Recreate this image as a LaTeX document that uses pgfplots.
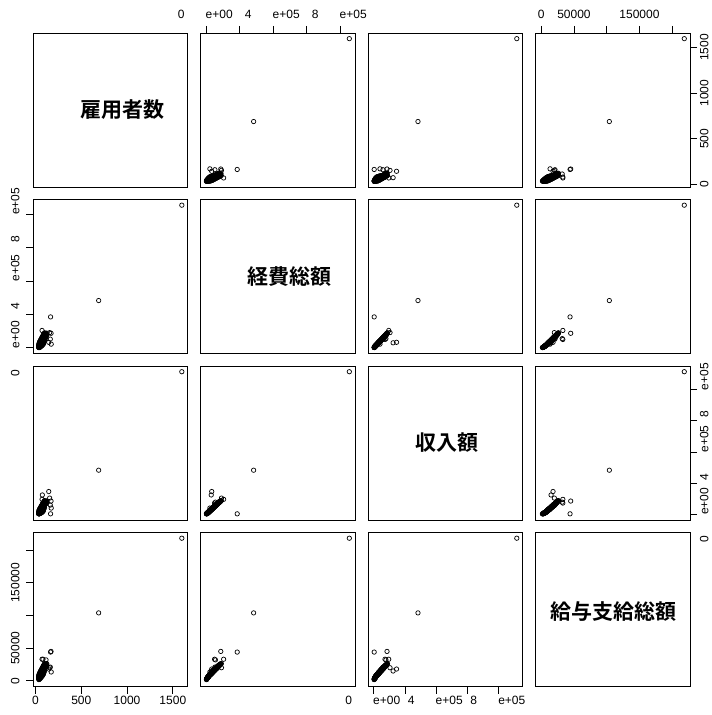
\documentclass[border=0pt]{standalone}
\usepackage{pgfplots}
\pgfplotsset{compat=1.18}
\usepackage{pgfplotstable}
\usepackage{fontspec}
\setmainfont{Liberation Sans}
\newfontfamily\cjk{Noto Sans CJK JP}[BoldFont={Noto Sans CJK JP Bold}]

% emp = 雇用者数, exp = 経費総額, inc = 収入額, sal = 給与支給総額
\pgfplotstableread{
emp exp inc sal
35 3000 4000 3000
35 6000 5000 4600
36 2000 3000 2400
36 9000 8000 5000
37 5000 6000 3700
37 11000 10000 6000
38 4000 4500 3400
38 7500 9000 4300
39 13000 12000 6500
39 6000 7000 4000
40 9000 8500 5300
40 15000 14000 7200
41 3500 5000 3100
41 11000 12500 5800
42 8000 7000 4700
42 17000 16000 7700
43 12000 13500 6200
43 5500 6500 4100
44 14000 12000 7100
44 19000 18500 8400
45 9500 11000 5500
45 16000 17000 7900
46 7000 8000 4800
46 21000 20000 8900
47 13000 14000 6700
47 18000 16500 8300
48 10500 12000 6000
48 23000 22000 9500
49 15500 15000 7400
49 20000 21500 9100
50 12000 11000 6400
50 25000 24000 10100
51 17500 18000 8200
51 9000 10500 5600
52 22000 20500 9600
52 14000 15500 7200
53 27000 26000 10700
53 19000 20000 8800
54 11500 13000 6600
54 24000 23000 10300
55 16000 17500 7800
55 29000 28000 11300
56 21000 22500 9400
56 13000 14000 7100
57 26000 25500 10900
57 31000 30000 11900
58 18000 19000 8500
58 23500 24500 10000
59 33000 31500 12500
59 15000 16000 7700
60 28000 27000 11500
60 20000 21000 9200
61 35000 34000 13100
61 25000 27500 10600
62 17000 18500 8300
62 30000 29000 12100
63 37000 36000 13700
63 22000 23000 9800
64 27000 28500 11200
64 32000 33500 12700
65 19000 20500 8900
65 39000 38000 14300
66 24500 26000 10400
66 34000 32500 13300
67 29000 30500 11800
67 41000 40000 14900
68 21500 22500 9500
68 36000 37500 13900
69 31000 29500 12400
69 43000 42000 15500
70 26000 27000 10800
70 38000 39000 14500
71 45000 44500 16100
71 33000 35000 13000
72 23500 25000 10200
72 40000 41500 15100
73 35000 33500 13600
73 47000 46000 16700
74 28500 30000 11400
74 42000 43000 15700
75 49000 48000 17300
75 37000 38500 14200
76 31000 32000 12000
76 44000 45500 16300
77 52000 50000 17900
77 39000 40000 14800
78 26000 28000 11000
78 46000 47000 16900
79 54000 53000 18500
79 41000 43000 15400
80 34000 35500 12800
80 48000 49500 17500
81 57000 55000 19100
81 43000 45000 16000
82 37000 38000 13800
82 51000 52000 18100
83 59000 58000 19700
83 45500 47000 16600
84 30000 32500 12200
84 53000 55000 18700
85 62000 60000 20300
85 48000 50500 17200
86 40000 41000 14600
86 56000 57000 19300
87 64000 63000 20900
88 50000 52500 17800
88 58000 60000 19900
89 44000 45000 15600
89 67000 65000 21500
90 53000 55500 18400
90 61000 62000 20500
91 47000 48000 16400
92 69000 68000 22100
92 55000 57000 19000
93 63000 65000 21100
94 50000 51000 17400
94 72000 70000 22700
95 58000 60500 19600
96 66000 67000 21700
97 53000 54000 18000
97 74000 73000 23300
98 61000 63000 20200
99 68000 70000 22300
100 56000 57500 18800
100 77000 75000 23900
102 64000 66000 20800
103 71000 72500 22900
104 59000 61000 19400
105 80000 78000 24500
106 67000 69000 21400
107 74000 76000 23500
108 62000 64000 20000
110 83000 81000 25100
111 70000 72000 22000
113 77000 79000 24100
115 65000 68000 20600
116 86000 84000 25700
118 73000 75000 22600
120 80000 82000 24700
123 88000 86000 26300
125 76000 79000 23200
36 15000 13000 7000
37 20000 22000 8500
38 1500 2500 1800
39 24000 21000 9000
40 2500 3500 2200
41 26000 28000 9600
42 30000 27000 10500
43 2000 4000 2600
44 33000 31000 11000
45 4500 3500 3200
46 28000 30000 10200
47 36000 34000 12000
48 6000 7500 3800
49 39000 37000 12800
50 31000 33000 11200
51 4000 6000 3500
52 41000 40000 13500
53 8500 7000 4600
54 35000 37000 12000
55 45000 43000 14500
56 7500 9500 4500
57 38000 36000 13000
58 48000 46000 15200
59 10000 12000 5500
60 42000 44000 14000
61 51000 49000 16000
62 9500 8500 5300
63 45000 47000 15000
64 54000 52000 16800
65 13000 14500 6600
66 49000 51000 16000
67 57000 55000 17600
68 12500 11000 6400
69 52000 54000 16900
70 60000 58000 18300
71 16000 18000 7800
72 55000 57000 17800
73 63000 61000 19000
74 15000 14000 7400
75 58000 60000 18600
76 66000 64000 19800
77 20000 22000 9000
78 61000 63000 19500
79 69000 67000 20600
80 19000 17500 8800
81 64000 66000 20300
82 72000 70000 21400
83 24000 26000 10300
84 67000 69000 21100
85 75000 73000 22200
86 23000 21500 10000
87 70000 72000 21900
88 78000 76000 23000
89 28000 30000 11500
90 73000 75000 22700
91 81000 79000 23800
92 33000 35000 12800
93 76000 78000 23500
94 84000 82000 24600
95 38000 40000 14000
96 79000 81000 24300
97 87000 85000 25400
98 43000 45000 15300
99 82000 84000 25100
100 90000 88000 26200
36 7000 8000 4200
38 10000 11000 5100
40 12500 11500 5800
42 11000 13000 5600
44 9000 10000 5000
46 15000 16500 7000
48 17000 15500 7400
50 16000 18000 7300
52 19000 17500 8100
54 18500 20000 8000
56 26000 24000 10000
58 28500 30500 10700
60 24500 23000 9600
62 26500 28000 10200
64 22500 24000 9200
66 30000 28500 11000
68 32500 34500 11800
70 34500 33000 12300
72 31000 32500 11600
74 37500 39500 13100
76 40000 38500 13600
78 38500 40500 13400
80 42500 41000 14300
82 45000 47500 15000
84 47500 46000 15500
86 51000 53500 16500
88 46000 47500 15300
90 49000 51000 16000
92 58000 56500 18000
94 56000 58000 17600
96 60000 62000 18500
98 64000 62500 19300
37 8500 7000 4400
39 9500 10500 4900
41 7000 8500 4300
43 9000 7500 4800
45 12500 13000 6000
47 10000 11000 5400
49 12000 13500 5900
51 14000 12500 6500
53 16500 18500 7400
55 20000 19000 8300
57 22000 23500 8900
59 25000 26500 9700
61 21000 19500 8500
63 28000 30000 10500
65 31000 30000 11400
67 33500 35500 12000
69 36000 34500 12900
71 39000 41000 13600
73 41500 40000 14200
75 44000 46500 15000
77 47000 45500 15700
165 185000 3000 44000
145 33000 146000 18000
170 87000 85000 45000
172 22000 40000 13500
162 52000 59000 21000
155 91000 104000 20000
82 50000 72000 33000
115 55000 78000 32000
72 104000 96000 33000
75 30000 124000 15000
690 283000 283000 104000
1598 854000 915000 218400
}\pts

\pgfplotsset{
  panel/.style={
    scale only axis, width=154.5bp, height=154bp,
    anchor=south west, axis line style={line width=0.8bp},
    xtick=\empty, ytick=\empty, clip=false, scaled ticks=false,
    xticklabels={}, yticklabels={},
    tick label style={opacity=0},
    tick style={line width=0.8bp, black},
    major tick length=7bp, tick align=outside,
  },
  pt/.style={only marks, mark=o, mark size=2.2bp,
    mark options={line width=0.7bp, black}},
  vemp/.style={#1min=-27, #1max=1660},
  vexp/.style={#1min=-34000, #1max=888000},
  vinc/.style={#1min=-36600, #1max=951600},
  vsal/.style={#1min=-8740, #1max=227140},
}
\tikzset{
  diag/.style={font=\cjk\bfseries\fontsize{21bp}{23bp}\selectfont},
  tl/.style={inner sep=0pt, font=\fontsize{12bp}{14bp}\selectfont},
}
% tick labels of the four outer sides
\newcommand{\toplab}[2]{\node[tl, yshift=14.5bp, anchor=base] at ({axis cs:#1,0} |- {rel axis cs:0,1}) {#2};}
\newcommand{\botlab}[2]{\node[tl, yshift=-17.8bp, anchor=base] at ({axis cs:#1,0} |- {rel axis cs:0,0}) {#2};}
\newcommand{\leftlab}[2]{\node[tl, xshift=-13.7bp, rotate=90, anchor=base] at ({rel axis cs:0,0} |- {axis cs:0,#1}) {#2};}
\newcommand{\rightlab}[2]{\node[tl, xshift=18.3bp, rotate=90, anchor=base] at ({rel axis cs:1,0} |- {axis cs:0,#1}) {#2};}
\newcommand{\sci}[2]{\makebox[0pt]{\hspace*{-50bp}#1}\makebox[0pt]{\hspace*{26bp}#2}}

\begin{document}
\begin{tikzpicture}
\useasboundingbox (0,0) rectangle (712bp,715bp);
% ---------- row 1 : 雇用者数 ----------
\begin{axis}[panel, at={(33bp,528bp)}, vemp=x, vemp=y]
\node[diag, xshift=12bp] at (rel axis cs:0.5,0.5) {雇用者数};
\end{axis}
\begin{axis}[panel, at={(200.5bp,528bp)}, vexp=x, vemp=y,
  xtick={0,200000,400000,600000,800000}, xtick pos=upper]
\addplot[pt] table[x=exp,y=emp]{\pts};
\toplab{0}{\sci{0}{e+00}}
\toplab{400000}{\sci{4}{e+05}}
\toplab{800000}{\sci{8}{e+05}}
\end{axis}
\begin{axis}[panel, at={(368bp,528bp)}, vinc=x, vemp=y]
\addplot[pt] table[x=inc,y=emp]{\pts};
\end{axis}
\begin{axis}[panel, at={(535.5bp,528bp)}, vsal=x, vemp=y,
  xtick={0,50000,100000,150000,200000}, xtick pos=upper,
  ytick={0,500,1000,1500}, ytick pos=right]
\addplot[pt] table[x=sal,y=emp]{\pts};
\toplab{0}{0}
\toplab{50000}{50000}
\toplab{150000}{150000}
\rightlab{0}{0}
\rightlab{500}{500}
\rightlab{1000}{1000}
\rightlab{1500}{1500}
\end{axis}
% ---------- row 2 : 経費総額 ----------
\begin{axis}[panel, at={(33bp,361.5bp)}, vemp=x, vexp=y,
  ytick={0,200000,400000,600000,800000}, ytick pos=left]
\addplot[pt] table[x=emp,y=exp]{\pts};
\leftlab{0}{\sci{0}{e+00}}
\leftlab{400000}{\sci{4}{e+05}}
\leftlab{800000}{\sci{8}{e+05}}
\end{axis}
\begin{axis}[panel, at={(200.5bp,361.5bp)}, vexp=x, vexp=y]
\node[diag, xshift=12bp] at (rel axis cs:0.5,0.5) {経費総額};
\end{axis}
\begin{axis}[panel, at={(368bp,361.5bp)}, vinc=x, vexp=y]
\addplot[pt] table[x=inc,y=exp]{\pts};
\end{axis}
\begin{axis}[panel, at={(535.5bp,361.5bp)}, vsal=x, vexp=y]
\addplot[pt] table[x=sal,y=exp]{\pts};
\end{axis}
% ---------- row 3 : 収入額 ----------
\begin{axis}[panel, at={(33bp,195bp)}, vemp=x, vinc=y]
\addplot[pt] table[x=emp,y=inc]{\pts};
\end{axis}
\begin{axis}[panel, at={(200.5bp,195bp)}, vexp=x, vinc=y]
\addplot[pt] table[x=exp,y=inc]{\pts};
\end{axis}
\begin{axis}[panel, at={(368bp,195bp)}, vinc=x, vinc=y]
\node[diag, xshift=2bp] at (rel axis cs:0.5,0.5) {収入額};
\end{axis}
\begin{axis}[panel, at={(535.5bp,195bp)}, vsal=x, vinc=y,
  ytick={0,200000,400000,600000,800000}, ytick pos=right]
\addplot[pt] table[x=sal,y=inc]{\pts};
\rightlab{0}{\sci{0}{e+00}}
\rightlab{400000}{\sci{4}{e+05}}
\rightlab{800000}{\sci{8}{e+05}}
\end{axis}
% ---------- row 4 : 給与支給総額 ----------
\begin{axis}[panel, at={(33bp,28.5bp)}, vemp=x, vsal=y,
  xtick={0,500,1000,1500}, xtick pos=lower,
  ytick={0,50000,100000,150000,200000}, ytick pos=left]
\addplot[pt] table[x=emp,y=sal]{\pts};
\botlab{0}{0}
\botlab{500}{500}
\botlab{1000}{1000}
\botlab{1500}{1500}
\leftlab{0}{0}
\leftlab{50000}{50000}
\leftlab{150000}{150000}
\end{axis}
\begin{axis}[panel, at={(200.5bp,28.5bp)}, vexp=x, vsal=y]
\addplot[pt] table[x=exp,y=sal]{\pts};
\end{axis}
\begin{axis}[panel, at={(368bp,28.5bp)}, vinc=x, vsal=y,
  xtick={0,200000,400000,600000,800000}, xtick pos=lower]
\addplot[pt] table[x=inc,y=sal]{\pts};
\botlab{0}{\sci{0}{e+00}}
\botlab{400000}{\sci{4}{e+05}}
\botlab{800000}{\sci{8}{e+05}}
\end{axis}
\begin{axis}[panel, at={(535.5bp,28.5bp)}, vsal=x, vsal=y]
\node[diag, xshift=1bp, yshift=-2bp] at (rel axis cs:0.5,0.5) {給与支給総額};
\end{axis}
\end{tikzpicture}
\end{document}
